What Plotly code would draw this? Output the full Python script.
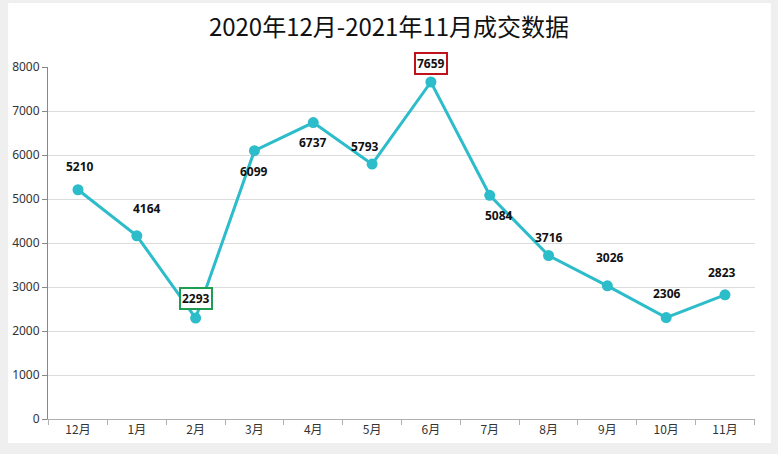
import plotly.graph_objects as go

months = ["12月", "1月", "2月", "3月", "4月", "5月", "6月", "7月", "8月", "9月", "10月", "11月"]
volumes = [5210, 4164, 2293, 6099, 6737, 5793, 7659, 5084, 3716, 3026, 2306, 2823]
y_ticks = [0, 1000, 2000, 3000, 4000, 5000, 6000, 7000, 8000]

# label offsets (pixels) per point
label_dx = [2, 10, 0, 0, 0, -7, 0, 9, 0, 3, 1, -3]
label_dy = [23, 27, 20, -21, -20, 18, 19, -20, 18, 28, 24, 22]
boxed = {2: "#1e9e55", 6: "#c0121a"}

line_color = "#2cbcca"

fig = go.Figure()
fig.add_trace(go.Scatter(
    x=months, y=volumes, mode="lines+markers",
    line=dict(color=line_color, width=3),
    marker=dict(color=line_color, size=11),
    hoverinfo="x+y", showlegend=False,
))

annotations = []
for i, (m, v) in enumerate(zip(months, volumes)):
    a = dict(x=m, y=v, xref="x", yref="y", text="<b>%d</b>" % v, showarrow=False,
             xshift=label_dx[i], yshift=label_dy[i],
             font=dict(family="Noto Sans, DejaVu Sans, sans-serif", size=12, color="#111"))
    if i in boxed:
        a.update(bordercolor=boxed[i], borderwidth=2, borderpad=1, bgcolor="white")
    annotations.append(a)

fig.update_layout(
    width=778, height=454,
    margin=dict(l=45, r=23, t=67, b=35),
    paper_bgcolor="#efefef",
    plot_bgcolor="white",
    title=dict(text="2020年12月-2021年11月成交数据", x=0.5, xanchor="center", y=0.94, yanchor="middle",
               font=dict(family="Noto Sans CJK SC, sans-serif", size=24, color="#111")),
    annotations=annotations,
    shapes=[dict(type="rect", xref="paper", yref="paper", layer="below",
                 x0=-40 / 710, x1=(771 - 45) / 710, y0=-(443 - 419) / 352, y1=(419 - 3) / 352,
                 fillcolor="white", line=dict(width=0))],
    xaxis=dict(type="category", showline=True, linecolor="#b0b0b0", linewidth=1,
               ticks="outside", tickson="boundaries", ticklen=5, tickcolor="#b0b0b0",
               showgrid=False, range=[-0.51, 11.51],
               tickfont=dict(family="Noto Sans CJK SC, sans-serif", size=12, color="#333")),
    yaxis=dict(range=[0, 8000], tickvals=y_ticks, showline=True, linecolor="#888", linewidth=1,
               ticks="outside", ticklen=5, tickcolor="#888", gridcolor="#dcdcdc",
               zeroline=False,
               tickfont=dict(family="Noto Sans, sans-serif", size=12, color="#333")),
)

fig.write_html("out.html", config={"displayModeBar": False},
               post_script="document.body.style.margin='0';document.body.style.background='#efefef';")
